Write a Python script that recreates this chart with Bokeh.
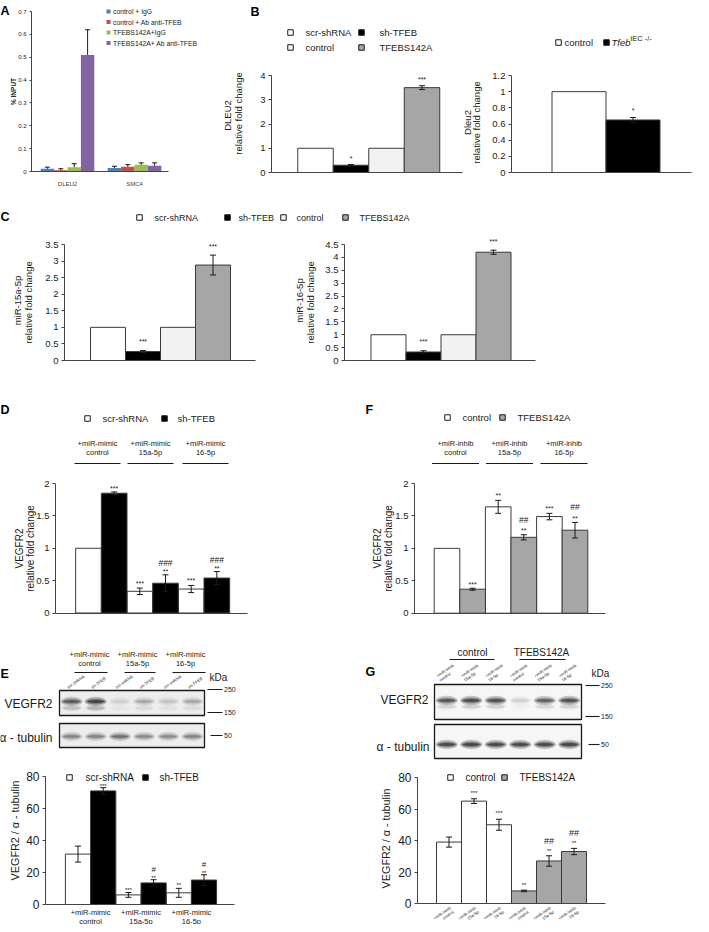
import math
from bokeh.plotting import figure
from bokeh.models import Range1d, LinearAxis, FixedTicker, NumeralTickFormatter
from bokeh.core.properties import value
from bokeh.embed import file_html
from bokeh.resources import INLINE

FONT = "Liberation Sans"

# ------------------------------------------------------------------ data
A_categories = ["DLEU2", "SMC4"]
A_series = ["control + IgG", "control + Ab anti-TFEB", "TFEBS142A+IgG", "TFEBS142A+ Ab anti-TFEB"]
A_ctrl_igg = [0.012, 0.015]
A_ctrl_ab = [0.005, 0.021]
A_s142a_igg = [0.019, 0.029]
A_s142a_ab = [0.510, 0.025]
A_ctrl_igg_err = [0.007, 0.008]
A_ctrl_ab_err = [0.007, 0.009]
A_s142a_igg_err = [0.015, 0.009]
A_s142a_ab_err = [0.110, 0.013]
A_colors = ["#4f81bd", "#c0504d", "#9bbb59", "#8064a2"]
A_ticks = [0, 0.1, 0.2, 0.3, 0.4, 0.5, 0.6, 0.7]

B_groups = ["scr-shRNA", "sh-TFEB", "control", "TFEBS142A"]
B_dleu2 = [1.0, 0.30, 1.0, 3.50]
B_dleu2_err = [0.0, 0.03, 0.0, 0.08]
B_dleu2_sig = ["", "*", "", "***"]
B_ticks = [0, 1, 2, 3, 4]

B_mouse_groups = ["control", "Tfeb iEC -/-"]
B_mouse_dleu2 = [1.0, 0.65]
B_mouse_err = [0.0, 0.03]
B_mouse_sig = ["", "*"]
B_mouse_ticks = [0, 0.2, 0.4, 0.6, 0.8, 1.0, 1.2]

C_mir15 = [1.0, 0.27, 1.0, 2.88]
C_mir15_err = [0.0, 0.03, 0.0, 0.30]
C_mir15_sig = ["", "***", "", "***"]
C_mir15_ticks = [0, 0.5, 1, 1.5, 2, 2.5, 3, 3.5]
C_mir16 = [1.0, 0.33, 1.0, 4.20]
C_mir16_err = [0.0, 0.05, 0.0, 0.08]
C_mir16_sig = ["", "***", "", "***"]
C_mir16_ticks = [0, 0.5, 1, 1.5, 2, 2.5, 3, 3.5, 4, 4.5]

D_groups = [("+miR-mimic", "control"), ("+miR-mimic", "15a-5p"), ("+miR-mimic", "16-5p")]
D_scr = [1.0, 0.335, 0.37]
D_scr_err = [0.0, 0.05, 0.055]
D_scr_sig = ["", "***", "***"]
D_sh = [1.85, 0.46, 0.54]
D_sh_err = [0.02, 0.13, 0.10]
D_sh_sig = ["***", "**", "**"]
D_sh_hash = ["", "###", "###"]
D_ticks = [0, 0.5, 1, 1.5, 2]

F_groups = [("+miR-inhib", "control"), ("+miR-inhib", "15a-5p"), ("+miR-inhib", "16-5p")]
F_ctrl = [1.0, 1.64, 1.49]
F_ctrl_err = [0.0, 0.10, 0.05]
F_ctrl_sig = ["", "**", "***"]
F_s142a = [0.37, 1.17, 1.28]
F_s142a_err = [0.015, 0.04, 0.12]
F_s142a_sig = ["***", "**", "**"]
F_s142a_hash = ["", "##", "##"]
F_ticks = [0, 0.5, 1, 1.5, 2]

E_lanes = ["scr-shRNA", "sh-TFEB", "scr-shRNA", "sh-TFEB", "scr-shRNA", "sh-TFEB"]
E_vegfr2_band = [0.80, 1.00, 0.12, 0.30, 0.18, 0.30]
E_tubulin_band = [0.50, 0.50, 0.62, 0.45, 0.45, 0.50]
E_markers = ["250", "150", "50"]
E_scr = [31.5, 6.0, 7.3]
E_scr_err = [5.0, 1.5, 2.8]
E_scr_sig = ["", "***", "**"]
E_sh = [71.0, 13.5, 15.3]
E_sh_err = [2.0, 2.0, 3.3]
E_sh_sig = ["***", "**", "**"]
E_sh_hash = ["", "#", "#"]
E_ticks = [0, 20, 40, 60, 80]

G_conditions = ["control", "TFEBS142A"]
G_lanes = [("+miR-inhib", "control"), ("+miR-inhib", "15a-5p"), ("+miR-inhib", "16-5p")] * 2
G_vegfr2_band = [0.85, 0.95, 0.90, 0.15, 0.75, 0.90]
G_tubulin_band = [0.95, 1.00, 0.95, 0.95, 0.95, 1.00]
G_ctrl = [39.0, 65.0, 50.0]
G_ctrl_err = [3.2, 1.5, 3.5]
G_ctrl_sig = ["", "***", "***"]
G_s142a = [8.0, 27.0, 33.0]
G_s142a_err = [0.5, 3.3, 2.0]
G_s142a_sig = ["**", "**", "**"]
G_s142a_hash = ["", "##", "##"]
G_ticks = [0, 20, 40, 60, 80]

# ------------------------------------------------------------------ canvas
PX0, PX1 = 8, 701
PY0, PY1 = 0, 924
p = figure(width=PX1 - PX0, height=PY1 - PY0, x_range=Range1d(PX0, PX1), y_range=Range1d(PY1, PY0),
           output_backend="svg", toolbar_location=None, x_axis_type=None, y_axis_type=None,
           min_border=0, outline_line_color=None, background_fill_color="white",
           border_fill_color="white")

WHITE, BLACK, LGRAY, GRAY = "#ffffff", "#000000", "#f2f2f2", "#a6a6a6"
EDGE = "#3a3a3a"


def txt(x, y, s, size, align="left", baseline="middle", style="normal", angle=0.0,
        color="#1a1a1a", xr="default", yr="default"):
    p.text(x=[x], y=[y], text=[s], text_font=value(FONT), text_font_size=f"{size}px",
           text_align=align, text_baseline=baseline, text_font_style=style, angle=angle,
           text_color=color, x_range_name=xr, y_range_name=yr)


def hline(x0, x1, y, w=1.2, color="#1a1a1a"):
    p.segment(x0=[x0], x1=[x1], y0=[y], y1=[y], line_color=color, line_width=w)


def legend_item(xs, y, color, label, size, tx):
    p.rect(x=[xs], y=[y], width=5.5, height=5.5, fill_color=color, line_color="#1a1a1a", line_width=1)
    txt(tx, y, label, size)


def chart(name, c0, step, zero_pix, ref_val, ref_pix, axis_x, axis_end, ticks, tick_size,
          tick_out=3):
    ppy = (zero_pix - ref_pix) / ref_val

    def xv(px):
        return (px - c0) / step

    def yv(py):
        return (zero_pix - py) / ppy
    p.extra_x_ranges[name] = Range1d(xv(PX0), xv(PX1))
    p.extra_y_ranges[name] = Range1d(yv(PY1), yv(PY0))
    yax = LinearAxis(x_range_name=name, y_range_name=name, fixed_location=xv(axis_x),
                     bounds=(0, ticks[-1]), ticker=FixedTicker(ticks=ticks),
                     formatter=NumeralTickFormatter(format="0.[0]"))
    yax.axis_line_color = "#444444"
    yax.major_tick_line_color = "#444444"
    yax.major_tick_out = tick_out
    yax.major_tick_in = 0
    yax.minor_tick_line_color = None
    yax.major_label_text_font = FONT
    yax.major_label_text_font_size = f"{tick_size}px"
    yax.major_label_text_color = "#1a1a1a"
    yax.major_label_standoff = 3
    p.add_layout(yax, "left")
    xax = LinearAxis(x_range_name=name, y_range_name=name, fixed_location=0,
                     bounds=(xv(axis_x), xv(axis_end)), ticker=FixedTicker(ticks=[]))
    xax.axis_line_color = "#444444"
    xax.major_tick_line_color = None
    xax.minor_tick_line_color = None
    xax.major_label_text_font_size = "0px"
    p.add_layout(xax, "below")
    return dict(name=name, ppy=ppy, step=step, xax=xax, yax=yax)


def bars(c, xs, vals, errs, fill, width=1.0, line=EDGE, sig=None, hsh=None, star_size=7,
         hash_size=8.5, star_gap=2.0, hash_gap=11.0, cap_px=3.0, upper_only=False):
    n = c["name"]
    p.vbar(x=xs, top=vals, bottom=0, width=width, fill_color=fill,
           line_color=line, line_width=1 if line else 0, x_range_name=n, y_range_name=n)
    ex, lo, hi = [], [], []
    for x, v, e in zip(xs, vals, errs):
        if e > 0:
            ex.append(x)
            lo.append(v if upper_only else v - e)
            hi.append(v + e)
    cw = cap_px / c["step"]
    if ex:
        p.segment(x0=ex, x1=ex, y0=lo, y1=hi, line_color="#1a1a1a", line_width=1,
                  x_range_name=n, y_range_name=n)
        p.segment(x0=[x - cw for x in ex], x1=[x + cw for x in ex], y0=hi, y1=hi,
                  line_color="#1a1a1a", line_width=1, x_range_name=n, y_range_name=n)
        if not upper_only:
            p.segment(x0=[x - cw for x in ex], x1=[x + cw for x in ex], y0=lo, y1=lo,
                      line_color="#1a1a1a", line_width=1, x_range_name=n, y_range_name=n)
    tops = [v + e for v, e in zip(vals, errs)]
    if sig:
        p.text(x=xs, y=[t + star_gap / c["ppy"] for t in tops], text=sig, text_align="center",
               text_baseline="alphabetic", text_font=value(FONT), text_font_size=f"{star_size}px",
               text_color="#1a1a1a", x_range_name=n, y_range_name=n)
    if hsh:
        p.text(x=xs, y=[t + hash_gap / c["ppy"] for t in tops], text=hsh, text_align="center",
               text_baseline="alphabetic", text_font=value(FONT), text_font_size=f"{hash_size}px",
               text_color="#1a1a1a", x_range_name=n, y_range_name=n)


def blot(l, r, t, b, bands, band_y, band_h, bg, second=None):
    p.quad(left=[l], right=[r], top=[t], bottom=[b], fill_color=bg, line_color="#1a1a1a",
           line_width=1.3)
    nl = len(bands)
    lw = (r - l) / nl
    xs = [l + (i + 0.5) * lw for i in range(nl)]
    for wf, hf, af in [(0.92, 1.7, 0.22), (0.82, 1.05, 0.38), (0.68, 0.55, 0.55)]:
        p.ellipse(x=xs, y=[band_y] * nl, width=lw * wf, height=band_h * hf, fill_color="#141414",
                  fill_alpha=[min(1.0, bi * af) for bi in bands], line_color=None)
    if second is not None:
        sy, sf = second
        for wf, hf, af in [(0.85, 1.2, 0.2), (0.7, 0.6, 0.3)]:
            p.ellipse(x=xs, y=[sy] * nl, width=lw * wf, height=band_h * hf, fill_color="#141414",
                      fill_alpha=[min(1.0, bi * af * sf) for bi in bands], line_color=None)
    return xs


ROT = math.pi / 2

# ------------------------------------------------------------------ panel A
cA = chart("A", 75, 67, 171, 0.7, 11, 39, 176, A_ticks, 6, tick_out=2)
cA["xax"].ticker = FixedTicker(ticks=[0, 1])
cA["xax"].major_label_overrides = {0: A_categories[0], 1: A_categories[1]}
cA["xax"].major_label_text_font = FONT
cA["xax"].major_label_text_font_size = "6px"
cA["xax"].major_label_standoff = 3
A_vals = [A_ctrl_igg, A_ctrl_ab, A_s142a_igg, A_s142a_ab]
A_errs = [A_ctrl_igg_err, A_ctrl_ab_err, A_s142a_igg_err, A_s142a_ab_err]
for k in range(4):
    xs = [g + (k - 1.5) * 0.2 for g in range(len(A_categories))]
    bars(cA, xs, A_vals[k], A_errs[k], A_colors[k], width=0.2, line=None, cap_px=2.5,
         upper_only=True)
txt(8, 10, "A", 12.5, style="bold", color="#000000")
txt(21, 91, "% INPUT", 6.5, align="center", style="bold", angle=ROT)
for k, lab in enumerate(A_series):
    yk = 11 + k * 10.5
    p.rect(x=[116], y=[yk], width=4, height=4, fill_color=A_colors[k], line_color=None)
    txt(120.5, yk, lab, 6.8)

# ------------------------------------------------------------------ panel B (human)
cB = chart("B", 323, 35.5, 172, 4, 75, 279, 470, B_ticks, 9.5)
bars(cB, list(range(4)), B_dleu2, B_dleu2_err, [WHITE, BLACK, LGRAY, GRAY], sig=B_dleu2_sig,
     star_gap=6)
txt(258, 11, "B", 12.5, style="bold", color="#000000")
legend_item(298, 32, WHITE, B_groups[0], 9.5, 313)
legend_item(298, 47, LGRAY, B_groups[2], 9.5, 313)
legend_item(369, 32, BLACK, B_groups[1], 9.5, 387)
legend_item(369, 47, GRAY, B_groups[3], 9.5, 387)
txt(235, 115, "DLEU2", 9.5, align="center", angle=ROT)
txt(246, 113, "relative fold change", 9.5, align="center", angle=ROT)

# ------------------------------------------------------------------ panel B (mouse)
cBm = chart("Bm", 586.5, 54, 172, 1.2, 75, 519, 699, B_mouse_ticks, 9.5)
bars(cBm, [0, 1], B_mouse_dleu2, B_mouse_err, [WHITE, BLACK], sig=B_mouse_sig, star_gap=7)
legend_item(566, 42, WHITE, B_mouse_groups[0], 9.5, 572)
p.rect(x=[614], y=[42], width=5.5, height=5.5, fill_color=BLACK, line_color="#1a1a1a")
txt(619, 42, "Tfeb", 9.5, style="italic")
txt(638, 37.5, "iEC -/-", 7.5)
txt(475, 122, "Dleu2", 9.5, align="center", angle=ROT)
txt(484, 122, "relative fold change", 9.5, align="center", angle=ROT)

# ------------------------------------------------------------------ panel C
txt(8, 216, "C", 12.5, style="bold", color="#000000")
legend_item(147, 217, WHITE, B_groups[0], 9, 162)
legend_item(235, 217, BLACK, B_groups[1], 9, 246)
legend_item(291, 217, LGRAY, B_groups[2], 9, 304)
legend_item(353, 217, GRAY, B_groups[3], 9, 367)

cC1 = chart("C1", 115.5, 35, 360, 3.5, 244, 72, 263, C_mir15_ticks, 9.5)
bars(cC1, list(range(4)), C_mir15, C_mir15_err, [WHITE, BLACK, LGRAY, GRAY], sig=C_mir15_sig,
     star_gap=9)
txt(25, 300, "miR-15a-5p", 9.5, align="center", angle=ROT)
txt(36, 302, "relative fold change", 9.5, align="center", angle=ROT)

cC2 = chart("C2", 396, 35, 360, 4.5, 244, 352, 543, C_mir16_ticks, 9.5)
bars(cC2, list(range(4)), C_mir16, C_mir16_err, [WHITE, BLACK, LGRAY, GRAY], sig=C_mir16_sig,
     star_gap=9)
txt(307, 300, "miR-16-5p", 9.5, align="center", angle=ROT)
txt(318, 302, "relative fold change", 9.5, align="center", angle=ROT)

# ------------------------------------------------------------------ panel D
txt(8, 409, "D", 12.5, style="bold", color="#000000")
legend_item(95, 418, WHITE, B_groups[0], 9.5, 110)
legend_item(172, 418, BLACK, B_groups[1], 9.5, 185)
for (l1, l2), xc in zip(D_groups, [105, 158, 213]):
    txt(xc, 443, l1, 7.5, align="center")
    txt(xc, 452, l2, 7.5, align="center")
    hline(xc - 23, xc + 23, 463)
cD = chart("D", 96, 25.67, 612.5, 2, 483, 63, 255, D_ticks, 9.5)
bars(cD, [2 * g for g in range(3)], D_scr, D_scr_err, WHITE, sig=D_scr_sig, star_gap=5)
bars(cD, [2 * g + 1 for g in range(3)], D_sh, D_sh_err, BLACK, sig=D_sh_sig, hsh=D_sh_hash,
     star_gap=3, hash_gap=12)
txt(27, 548, "VEGFR2", 10, align="center", angle=ROT)
txt(38, 548, "relative fold change", 10, align="center", angle=ROT)

# ------------------------------------------------------------------ panel F
txt(373, 409, "F", 12.5, style="bold", color="#000000")
legend_item(455, 417, WHITE, "control", 9.5, 470)
legend_item(510, 417, GRAY, "TFEBS142A", 9.5, 525)
for (l1, l2), xc in zip(F_groups, [463, 517, 571.5]):
    txt(xc, 443, l1, 7.5, align="center")
    txt(xc, 452, l2, 7.5, align="center")
    hline(xc - 23.5, xc + 23.5, 463)
cF = chart("F", 454.5, 25.6, 612.7, 2, 483, 422, 613, F_ticks, 9.5)
bars(cF, [2 * g for g in range(3)], F_ctrl, F_ctrl_err, WHITE, sig=F_ctrl_sig, star_gap=5)
bars(cF, [2 * g + 1 for g in range(3)], F_s142a, F_s142a_err, GRAY, sig=F_s142a_sig,
     hsh=F_s142a_hash, star_gap=4, hash_gap=15)
txt(385, 548, "VEGFR2", 10, align="center", angle=ROT)
txt(396, 548, "relative fold change", 10, align="center", angle=ROT)

# ------------------------------------------------------------------ panel E (blot)
txt(8, 673, "E", 12.5, style="bold", color="#000000")
for (l1, l2), xc, (u0, u1) in zip(D_groups, [97, 145, 193], [(82, 115), (132, 163), (180, 213)]):
    txt(xc, 654, l1, 7.5, align="center")
    txt(xc, 663, l2, 7.5, align="center")
    hline(u0, u1, 672)
lanesE = blot(67, 212, 690, 715, E_vegfr2_band, 701, 5.5, "#ededed", second=(707.5, 0.55))
blot(67, 212, 723, 747, E_tubulin_band, 736, 5.5, "#ededed")
for xl, lab in zip(lanesE, E_lanes):
    txt(xl - 4, 687, lab, 4.2, angle=math.radians(35), baseline="alphabetic")
txt(217, 677, "kDa", 10)
txt(60, 703, "VEGFR2", 12, align="right")
txt(60, 737, "\u03b1 - tubulin", 12, align="right")
for lab, ym, xl0 in zip(E_markers, [689, 712, 735], [215, 215, 218]):
    hline(xl0, 230, ym, w=1.1)
    txt(231.5, ym, lab, 7)

# ------------------------------------------------------------------ panel E (chart)
cE = chart("E", 85.5, 25.2, 904, 80, 776, 53, 242, E_ticks, 12)
bars(cE, [2 * g for g in range(3)], E_scr, E_scr_err, WHITE, sig=E_scr_sig, star_size=6,
     star_gap=3)
bars(cE, [2 * g + 1 for g in range(3)], E_sh, E_sh_err, BLACK, sig=E_sh_sig, hsh=E_sh_hash,
     star_size=6, hash_size=8, star_gap=2, hash_gap=10)
legend_item(77, 777, WHITE, B_groups[0], 10, 93)
legend_item(153, 777, BLACK, B_groups[1], 10, 167)
for g, (l1, l2) in enumerate(D_groups):
    txt(2 * g + 0.5, 912, l1, 7.5, align="center", xr="E")
    txt(2 * g + 0.5, 920.5, l2, 7.5, align="center", xr="E")
txt(22, 830, "VEGFR2 / \u03b1 - tubulin", 10.8, align="center", angle=ROT)

# ------------------------------------------------------------------ panel G (blot)
txt(373, 671, "G", 12.5, style="bold", color="#000000")
txt(480, 652, G_conditions[0], 10, align="center")
hline(457, 502, 659)
txt(549, 652, G_conditions[1], 10, align="center")
hline(527, 573, 659)
lanesG = blot(442, 589, 684, 719, G_vegfr2_band, 700, 5.5, "#f6f6f6", second=(706, 0.35))
blot(442, 589, 724, 758, G_tubulin_band, 744, 5.5, "#f6f6f6")
rot = math.radians(35)
for xl, (l1, l2) in zip(lanesG, G_lanes):
    txt(xl - 10, 676, l1, 4.2, angle=rot, baseline="alphabetic")
    txt(xl - 7, 680, l2, 4.2, angle=rot, baseline="alphabetic")
txt(599, 673, "kDa", 10)
txt(436, 699, "VEGFR2", 12, align="right")
txt(437, 746, "\u03b1 - tubulin", 12, align="right")
for lab, ym, xl0 in zip(E_markers, [685, 716, 744], [593, 593, 596]):
    hline(xl0, 607, ym, w=1.1)
    txt(608.5, ym, lab, 7)

# ------------------------------------------------------------------ panel G (chart)
cG = chart("G", 456.5, 25, 903, 80, 777, 425, 613, G_ticks, 12)
bars(cG, [0, 1, 2], G_ctrl, G_ctrl_err, WHITE, sig=G_ctrl_sig, star_size=6, star_gap=6)
bars(cG, [3, 4, 5], G_s142a, G_s142a_err, GRAY, sig=G_s142a_sig, hsh=G_s142a_hash,
     star_size=6, hash_size=9, star_gap=5, hash_gap=15)
legend_item(458, 777, WHITE, "control", 10, 473)
legend_item(512, 777, GRAY, "TFEBS142A", 10, 527)
for j, (l1, l2) in enumerate(G_lanes):
    txt(j + 0.05, 907, l1, 4.2, align="right", angle=rot, baseline="alphabetic", xr="G")
    txt(j + 0.17, 911, l2, 4.2, align="right", angle=rot, baseline="alphabetic", xr="G")
txt(393, 838, "VEGFR2 / \u03b1 - tubulin", 10.8, align="center", angle=ROT)

open("out.html", "w").write(file_html(p, INLINE))
